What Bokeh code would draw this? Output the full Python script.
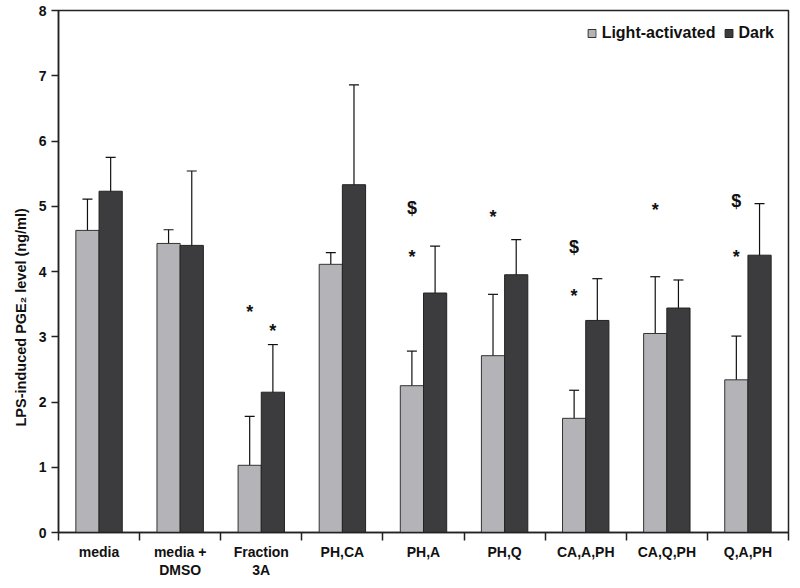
import numpy as np
from bokeh.plotting import figure
from bokeh.models import (ColumnDataSource, Whisker, FixedTicker, Range1d,
                          Legend, LegendItem, Title)
from bokeh.core.properties import value
from bokeh.embed import file_html
from bokeh.resources import INLINE

categories = ["media", "media +\nDMSO", "Fraction\n3A", "PH,CA", "PH,A",
              "PH,Q", "CA,A,PH", "CA,Q,PH", "Q,A,PH"]
light_mean = [4.63, 4.43, 1.03, 4.11, 2.25, 2.71, 1.75, 3.05, 2.34]
light_err = [0.48, 0.21, 0.75, 0.18, 0.53, 0.94, 0.43, 0.87, 0.67]
dark_mean = [5.23, 4.40, 2.15, 5.33, 3.67, 3.95, 3.25, 3.44, 4.25]
dark_err = [0.52, 1.14, 0.73, 1.53, 0.72, 0.54, 0.64, 0.43, 0.79]

# significance marks: (category index, series, y, symbol)
mark_cat = [2, 2, 4, 4, 5, 6, 6, 7, 8, 8]
mark_series = ["light", "dark", "light", "light", "light", "light", "light",
               "light", "light", "light"]
mark_y = [3.38, 3.09, 4.98, 4.22, 4.83, 4.37, 3.62, 4.95, 5.08, 4.22]
mark_sym = ["*", "*", "$", "*", "*", "$", "*", "*", "$", "*"]

y_ticks = [0, 1, 2, 3, 4, 5, 6, 7, 8]

LIGHT = "#b4b4b8"
DARK = "#3c3c3e"
FONT = "Liberation Sans"
BW = 0.286
OFF = BW / 2

n = len(categories)
centers = np.arange(n) + 0.5
xl = centers - OFF
xd = centers + OFF

src_l = ColumnDataSource(dict(x=xl, top=light_mean,
                              lo=np.array(light_mean) - np.array(light_err),
                              hi=np.array(light_mean) + np.array(light_err)))
src_d = ColumnDataSource(dict(x=xd, top=dark_mean,
                              lo=np.array(dark_mean) - np.array(dark_err),
                              hi=np.array(dark_mean) + np.array(dark_err)))

p = figure(width=792, height=580, output_backend="svg", toolbar_location=None,
           x_range=Range1d(0, n), y_range=Range1d(0, 8),
           min_border_left=58, min_border_right=4, min_border_top=10,
           min_border_bottom=47)
p.grid.visible = False
p.outline_line_color = "#222222"
p.outline_line_width = 1.5
p.background_fill_color = "white"
p.border_fill_color = "white"

rl = p.vbar(x="x", top="top", width=BW, bottom=0, source=src_l,
            fill_color=LIGHT, line_color="#333333", line_width=1)
rd = p.vbar(x="x", top="top", width=BW, bottom=0, source=src_d,
            fill_color=DARK, line_color="#222222", line_width=1)

for s in (src_l, src_d):
    w = Whisker(base="x", lower="lo", upper="hi", source=s,
                line_color="#111111", line_width=1.2)
    w.upper_head.size = 10
    w.lower_head.size = 10
    w.upper_head.line_color = "#111111"
    w.lower_head.line_color = "#111111"
    w.upper_head.line_width = 1.2
    w.lower_head.line_width = 1.2
    p.add_layout(w)

mx = [centers[c] - OFF if s == "light" else centers[c] + OFF
      for c, s in zip(mark_cat, mark_series)]
src_m = ColumnDataSource(dict(x=mx, y=mark_y, t=mark_sym))
p.text(x="x", y="y", text="t", source=src_m, text_align="center",
       text_baseline="middle", text_font=value(FONT),
       text_font_style="bold", text_font_size="18px", text_color="#111111")

# y axis
ya = p.yaxis[0]
ya.ticker = FixedTicker(ticks=y_ticks)
ya.minor_tick_line_color = None
ya.major_tick_in = 0
ya.major_tick_out = 7
ya.axis_line_width = 1.5
ya.major_tick_line_width = 1.5
ya.axis_line_color = "#222222"
ya.major_tick_line_color = "#222222"
ya.major_label_text_font = FONT
ya.major_label_text_font_style = "bold"
ya.major_label_text_font_size = "14px"
ya.major_label_text_color = "#111111"
ya.major_label_standoff = 5

ylab = Title(text="LPS-induced PGE\u2082 level (ng/ml)", align="left",
             offset=106, text_font=FONT, text_font_style="bold",
             text_font_size="14.5px", text_color="#111111", standoff=14)
p.add_layout(ylab, "left")

# x axis: labels at centers, tick marks at boundaries (minor ticks)
xa = p.xaxis[0]
xa.ticker = FixedTicker(ticks=list(centers), minor_ticks=list(range(n + 1)))
xa.major_label_overrides = {float(c): lab for c, lab in zip(centers, categories)}
xa.major_tick_line_color = None
xa.major_tick_in = 0
xa.major_tick_out = 8
xa.minor_tick_in = 0
xa.minor_tick_out = 8
xa.minor_tick_line_color = "#222222"
xa.minor_tick_line_width = 1.5
xa.axis_line_width = 1.5
xa.axis_line_color = "#222222"
xa.major_label_text_font = FONT
xa.major_label_text_font_style = "bold"
xa.major_label_text_font_size = "14px"
xa.major_label_text_line_height = 1.15
xa.major_label_text_color = "#111111"
xa.major_label_standoff = 3

legend = Legend(items=[LegendItem(label="Light-activated", renderers=[rl]),
                       LegendItem(label="Dark", renderers=[rd])],
                location="top_right", orientation="horizontal")
legend.border_line_color = None
legend.background_fill_alpha = 0
legend.label_text_font = FONT
legend.label_text_font_style = "bold"
legend.label_text_font_size = "16px"
legend.label_text_color = "#111111"
legend.glyph_width = 10
legend.glyph_height = 10
legend.label_standoff = 5
legend.spacing = 8
legend.margin = 14
legend.padding = 5
p.add_layout(legend)

open("out.html", "w").write(file_html(p, INLINE))
